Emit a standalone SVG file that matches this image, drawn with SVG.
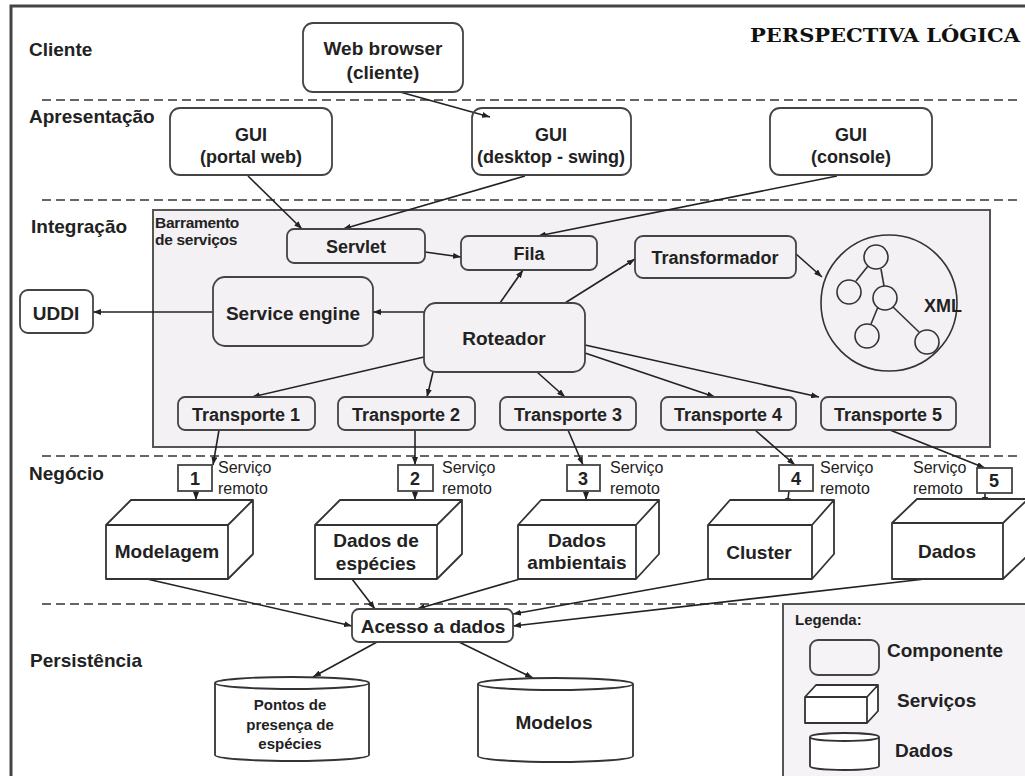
<svg xmlns="http://www.w3.org/2000/svg" width="1025" height="776" viewBox="0 0 1025 776">
  <style>
    .lbl { font-family: "Liberation Sans", Arial, sans-serif; font-weight: bold; fill: #222; }
    .sec { font-size: 19px; }
    .t18 { font-size: 18px; text-anchor: middle; }
    .t19 { font-size: 19px; text-anchor: middle; }
    .small { font-family: "Liberation Sans", Arial, sans-serif; font-size: 16px; fill: #222; }
    .box { fill: none; stroke: #444; stroke-width: 1.8; }
    .wbox { fill: #fff; stroke: #444; stroke-width: 1.8; }
    .solid { fill: #fff; stroke: #333; stroke-width: 1.8; stroke-linejoin: round; }
    .dash { stroke: #666; stroke-width: 2; stroke-dasharray: 9 5; fill: none; }
    .conn { stroke: #222; stroke-width: 1.6; fill: none; marker-end: url(#ah); }
    .thin { fill: none; stroke: #333; stroke-width: 1.6; }
  </style>
  <defs>
    <marker id="ah" viewBox="0 0 8 6" refX="8" refY="3" markerWidth="8" markerHeight="6" orient="auto" markerUnits="userSpaceOnUse">
      <path d="M0,0 L8,3 L0,6 z" fill="#222"/>
    </marker>
  </defs>

  <rect width="1025" height="776" fill="#fff"/>

  <!-- outer frame -->
  <path d="M11,776 V6 H1025" fill="none" stroke="#444" stroke-width="3"/>

  <!-- title -->
  <text x="750" y="42" textLength="270" lengthAdjust="spacingAndGlyphs" style="font-family:'DejaVu Serif','Liberation Serif',serif;font-weight:bold;font-size:18px;fill:#111">PERSPECTIVA LÓGICA</text>

  <!-- layer separators -->
  <g id="layers">
    <line class="dash" x1="42" y1="100" x2="1020" y2="100"/>
    <line class="dash" x1="42" y1="200" x2="1020" y2="200"/>
    <line class="dash" x1="42" y1="456" x2="1020" y2="456"/>
    <line class="dash" x1="42" y1="604" x2="1020" y2="604"/>
    <text class="lbl sec" x="29" y="56">Cliente</text>
    <text class="lbl sec" x="29" y="123">Apresentação</text>
    <text class="lbl sec" x="31" y="233">Integração</text>
    <text class="lbl sec" x="29" y="480">Negócio</text>
    <text class="lbl sec" x="30" y="667">Persistência</text>
  </g>

  <!-- service bus container -->
  <g id="barramento">
    <rect x="153" y="210" width="837" height="237" fill="#f3f1f4" stroke="#555" stroke-width="2"/>
    <text class="lbl" x="155" y="228" style="font-size:15.5px;letter-spacing:-0.3px">Barramento</text>
    <text class="lbl" x="155" y="245" style="font-size:15.5px;letter-spacing:-0.3px">de serviços</text>
  </g>

  <!-- legend -->
  <g id="legenda">
    <rect x="783" y="604" width="250" height="180" fill="#f5f3f6" stroke="#555" stroke-width="2"/>
    <text class="lbl" x="795" y="625" style="font-size:15px">Legenda:</text>
    <rect class="box" x="810" y="640" width="69" height="35" rx="8"/>
    <text class="lbl sec" x="887" y="657">Componente</text>
    <path class="solid" d="M805,697 h62 v26 h-62 z M805,697 L816,685 H878 L867,697 Z M867,697 L878,685 V711 L867,723 Z"/>
    <text class="lbl sec" x="897" y="707">Serviços</text>
    <path class="solid" d="M810,737 V766 A34.5,4 0 0 0 879,766 V737"/>
    <ellipse class="solid" cx="844.5" cy="737" rx="34.5" ry="4"/>
    <text class="lbl sec" x="895" y="757">Dados</text>
  </g>

  <!-- connectors -->
  <g id="connectors">
    <line class="conn" x1="400" y1="92" x2="490" y2="117"/>
    <line class="conn" x1="248" y1="176" x2="302" y2="229"/>
    <line class="conn" x1="525" y1="176" x2="343" y2="229"/>
    <line class="conn" x1="837" y1="176" x2="538" y2="236"/>
    <line class="conn" x1="425" y1="252" x2="461" y2="257"/>
    <line class="conn" x1="500" y1="303" x2="523" y2="270"/>
    <line class="conn" x1="565" y1="303" x2="635" y2="259"/>
    <line class="conn" x1="796" y1="254" x2="822" y2="277"/>
    <line class="conn" x1="424" y1="312" x2="373" y2="312"/>
    <line class="conn" x1="213" y1="312" x2="93" y2="312"/>
    <line class="conn" x1="424" y1="357" x2="252" y2="397"/>
    <line class="conn" x1="433" y1="372" x2="427" y2="397"/>
    <line class="conn" x1="537" y1="372" x2="565" y2="397"/>
    <line class="conn" x1="585" y1="353" x2="715" y2="397"/>
    <line class="conn" x1="585" y1="345" x2="819" y2="397"/>
    <line class="conn" x1="219" y1="430" x2="213" y2="465"/>
    <line class="conn" x1="415" y1="430" x2="415" y2="465"/>
    <line class="conn" x1="568" y1="430" x2="583" y2="465"/>
    <line class="conn" x1="755" y1="430" x2="795" y2="465"/>
    <line class="conn" x1="890" y1="430" x2="985" y2="468"/>
    <line class="conn" x1="196" y1="491" x2="196" y2="500"/>
    <line class="conn" x1="415" y1="491" x2="415" y2="500"/>
    <line class="conn" x1="586" y1="491" x2="586" y2="500"/>
    <line class="conn" x1="789" y1="491" x2="787" y2="506"/>
    <line class="conn" x1="985" y1="493" x2="985" y2="505"/>
    <line class="conn" x1="147" y1="579" x2="352" y2="626"/>
    <line class="conn" x1="352" y1="579" x2="375" y2="609"/>
    <line class="conn" x1="520" y1="579" x2="417" y2="609"/>
    <line class="conn" x1="708" y1="579" x2="513" y2="614"/>
    <line class="conn" x1="925" y1="579" x2="513" y2="626"/>
    <line class="conn" x1="377" y1="642" x2="313" y2="677"/>
    <line class="conn" x1="459" y1="642" x2="533" y2="678"/>
  </g>

  <!-- client / presentation components -->
  <g id="web-browser">
    <rect class="wbox" x="303" y="23" width="160" height="69" rx="10"/>
    <text class="lbl t19" x="383" y="55">Web browser</text>
    <text class="lbl t19" x="383" y="79">(cliente)</text>
  </g>
  <g id="gui-portal">
    <rect class="wbox" x="170" y="108" width="162" height="67" rx="10"/>
    <text class="lbl t18" x="251" y="141">GUI</text>
    <text class="lbl t18" x="251" y="163">(portal web)</text>
  </g>
  <g id="gui-desktop">
    <rect class="box" x="472" y="108" width="159" height="67" rx="10"/>
    <text class="lbl t18" x="551" y="141">GUI</text>
    <text class="lbl t18" x="551" y="163">(desktop - swing)</text>
  </g>
  <g id="gui-console">
    <rect class="wbox" x="770" y="108" width="162" height="67" rx="10"/>
    <text class="lbl t18" x="851" y="141">GUI</text>
    <text class="lbl t18" x="851" y="163">(console)</text>
  </g>

  <!-- integration components -->
  <g id="servlet">
    <rect class="box" x="287" y="229" width="138" height="34" rx="7"/>
    <text class="lbl t18" x="356" y="253">Servlet</text>
  </g>
  <g id="fila">
    <rect class="box" x="461" y="236" width="136" height="34" rx="7"/>
    <text class="lbl t18" x="529" y="260">Fila</text>
  </g>
  <g id="transformador">
    <rect class="box" x="635" y="236" width="161" height="42" rx="8"/>
    <text class="lbl t18" x="715" y="264">Transformador</text>
  </g>
  <g id="xml">
    <circle class="thin" cx="889" cy="303" r="68"/>
    <line class="thin" x1="868" y1="266" x2="856" y2="281"/>
    <line class="thin" x1="881" y1="269" x2="884" y2="286"/>
    <line class="thin" x1="878" y1="307" x2="871" y2="324"/>
    <line class="thin" x1="893" y1="307" x2="919" y2="332"/>
    <circle class="thin" cx="876" cy="257" r="12"/>
    <circle class="thin" cx="849" cy="292" r="12"/>
    <circle class="thin" cx="885" cy="298" r="12"/>
    <circle class="thin" cx="867" cy="336" r="12"/>
    <circle class="thin" cx="927" cy="342" r="12"/>
    <text class="lbl t18" x="943" y="312">XML</text>
  </g>
  <g id="service-engine">
    <rect class="box" x="213" y="277" width="160" height="69" rx="12"/>
    <text class="lbl t19" x="293" y="320">Service engine</text>
  </g>
  <g id="uddi">
    <rect class="wbox" x="20" y="290" width="73" height="43" rx="8"/>
    <text class="lbl t19" x="56" y="320">UDDI</text>
  </g>
  <g id="roteador">
    <rect class="box" x="424" y="303" width="161" height="69" rx="12"/>
    <text class="lbl t19" x="504" y="345">Roteador</text>
  </g>
  <g id="transporte-1">
    <rect class="box" x="178" y="397" width="137" height="33" rx="7"/>
    <text class="lbl t18" x="246" y="421">Transporte 1</text>
  </g>
  <g id="transporte-2">
    <rect class="box" x="338" y="397" width="137" height="33" rx="7"/>
    <text class="lbl t18" x="406" y="421">Transporte 2</text>
  </g>
  <g id="transporte-3">
    <rect class="box" x="500" y="397" width="136" height="33" rx="7"/>
    <text class="lbl t18" x="568" y="421">Transporte 3</text>
  </g>
  <g id="transporte-4">
    <rect class="box" x="661" y="397" width="135" height="33" rx="7"/>
    <text class="lbl t18" x="728" y="421">Transporte 4</text>
  </g>
  <g id="transporte-5">
    <rect class="box" x="821" y="397" width="135" height="33" rx="7"/>
    <text class="lbl t18" x="888" y="421">Transporte 5</text>
  </g>

  <!-- business layer: remote services -->
  <g id="servico-1">
    <rect class="wbox" x="178" y="465" width="34" height="26"/>
    <text class="lbl t18" x="195" y="485">1</text>
    <text class="small" x="218" y="473">Serviço</text>
    <text class="small" x="218" y="494">remoto</text>
    <path class="solid" d="M106,525 h122 v54 h-122 z M106,525 L131,500 H253 L228,525 Z M228,525 L253,500 V554 L228,579 Z"/>
    <text class="lbl t19" x="167" y="558">Modelagem</text>
  </g>
  <g id="servico-2">
    <rect class="wbox" x="398" y="465" width="35" height="26"/>
    <text class="lbl t18" x="415" y="485">2</text>
    <text class="small" x="442" y="473">Serviço</text>
    <text class="small" x="442" y="494">remoto</text>
    <path class="solid" d="M315,525 h122 v54 h-122 z M315,525 L340,500 H462 L437,525 Z M437,525 L462,500 V554 L437,579 Z"/>
    <text class="lbl t19" x="376" y="547">Dados de</text>
    <text class="lbl t19" x="376" y="570">espécies</text>
  </g>
  <g id="servico-3">
    <rect class="wbox" x="567" y="465" width="33" height="26"/>
    <text class="lbl t18" x="583" y="485">3</text>
    <text class="small" x="610" y="473">Serviço</text>
    <text class="small" x="610" y="494">remoto</text>
    <path class="solid" d="M518,525 h118 v54 h-118 z M518,525 L541,500 H659 L636,525 Z M636,525 L659,500 V554 L636,579 Z"/>
    <text class="lbl t19" x="577" y="547">Dados</text>
    <text class="lbl t19" x="577" y="569">ambientais</text>
  </g>
  <g id="servico-4">
    <rect class="wbox" x="779" y="465" width="34" height="26"/>
    <text class="lbl t18" x="796" y="485">4</text>
    <text class="small" x="820" y="473">Serviço</text>
    <text class="small" x="820" y="494">remoto</text>
    <path class="solid" d="M708,525 h104 v54 h-104 z M708,525 L730,500 H834 L812,525 Z M812,525 L834,500 V554 L812,579 Z"/>
    <text class="lbl t19" x="759" y="559">Cluster</text>
  </g>
  <g id="servico-5">
    <rect class="wbox" x="977" y="468" width="35" height="25"/>
    <text class="lbl t18" x="994" y="487">5</text>
    <text class="small" x="913" y="473">Serviço</text>
    <text class="small" x="913" y="494">remoto</text>
    <path class="solid" d="M892,523 h111 v56 h-111 z M892,523 L917,499 H1028 L1003,523 Z M1003,523 L1028,499 V555 L1003,579 Z"/>
    <text class="lbl t19" x="947" y="558">Dados</text>
  </g>

  <!-- persistence layer -->
  <g id="acesso-dados">
    <rect class="wbox" x="352" y="609" width="161" height="33" rx="7"/>
    <text class="lbl t19" x="433" y="633">Acesso a dados</text>
  </g>
  <g id="pontos-presenca">
    <path class="solid" d="M215,683 V755 A77,6 0 0 0 369,755 V683"/>
    <ellipse class="solid" cx="292" cy="683" rx="77" ry="6"/>
    <text class="lbl" x="290" y="710" style="font-size:15px;text-anchor:middle">Pontos de</text>
    <text class="lbl" x="290" y="730" style="font-size:15px;text-anchor:middle">presença de</text>
    <text class="lbl" x="290" y="749" style="font-size:15px;text-anchor:middle">espécies</text>
  </g>
  <g id="modelos">
    <path class="solid" d="M478,684 V756 A77.5,6 0 0 0 633,756 V684"/>
    <ellipse class="solid" cx="555.5" cy="684" rx="77.5" ry="6"/>
    <text class="lbl t19" x="554" y="729">Modelos</text>
  </g>
</svg>
